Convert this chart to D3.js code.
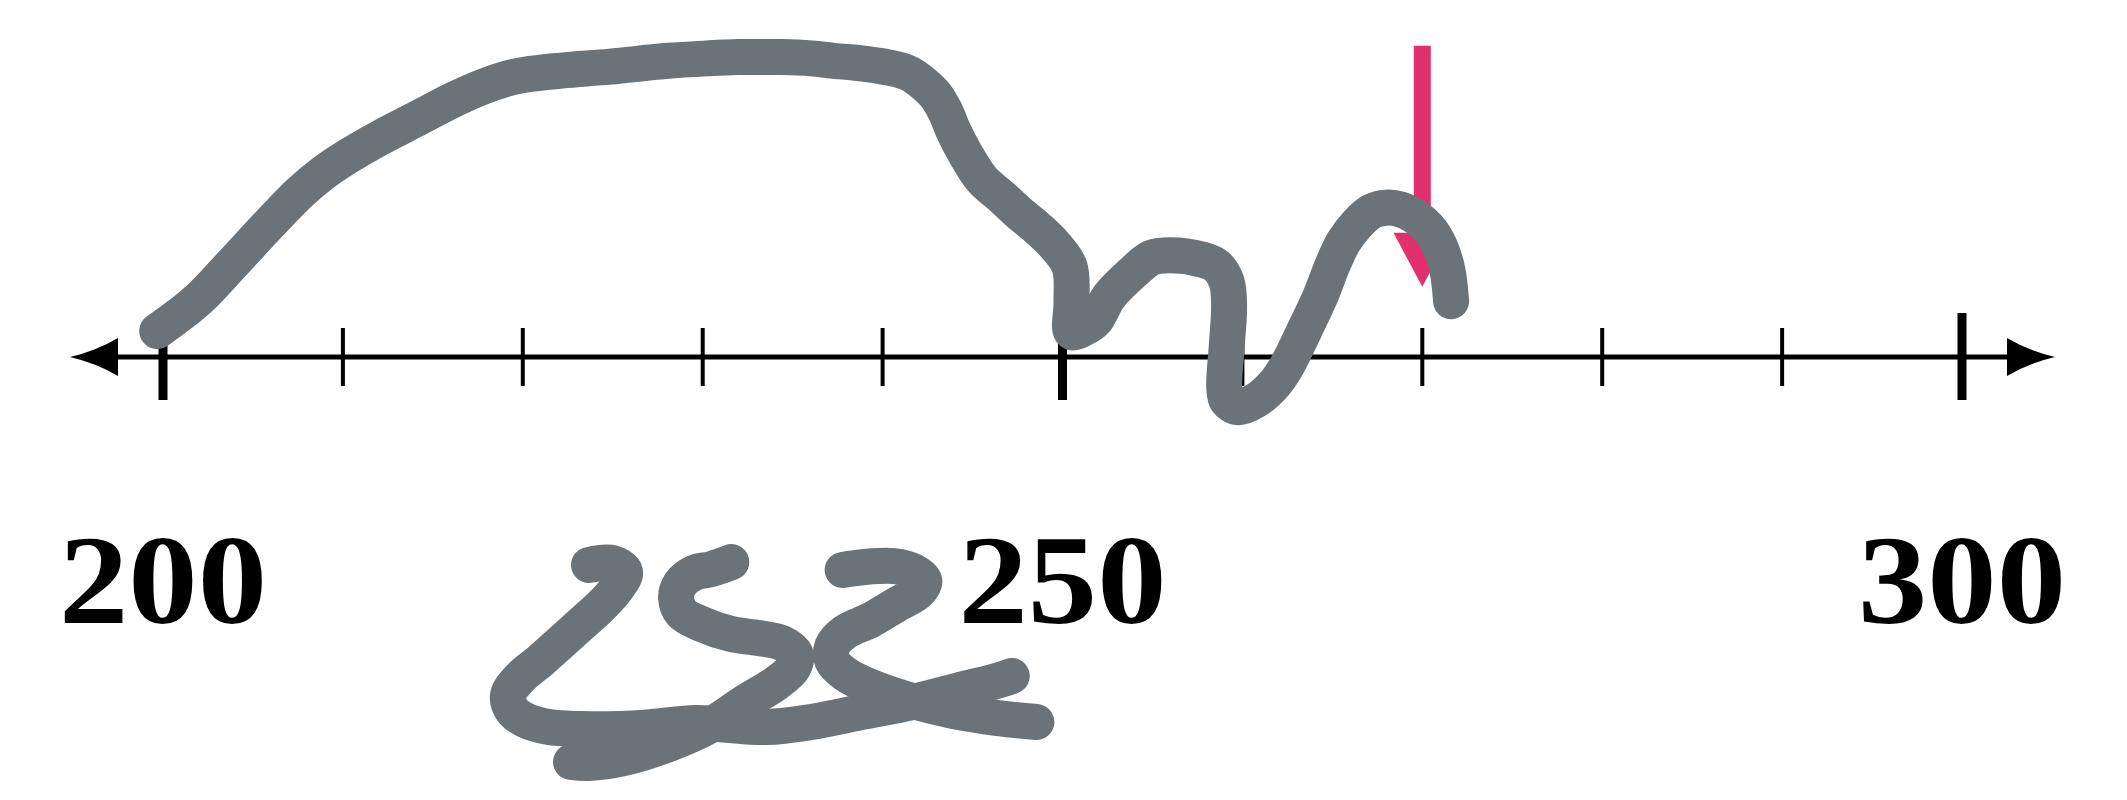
<!DOCTYPE html>
<html>
<head>
<meta charset="utf-8">
<script src="https://cdnjs.cloudflare.com/ajax/libs/d3/7.8.5/d3.min.js"></script>
<style>
  body { margin: 0; background: #fff; }
  svg { display: block; }
</style>
</head>
<body>
<div id="chartContent"></div>
<script>
// number line
var lineMin = 200
var lineMax = 300
var majorTicks = [200, 250, 300]
var tickLabels = ["200", "250", "300"]

// pink arrow pointing at 270 (value, top height, tip height)
var arrowValue = 270
var arrowTop = 17.3
var arrowTip = 3.9

// scribbles, [value, height above the line] in number line units
var topScribble = [
    [199.68, 1.44], [201.30, 2.64], [202.18, 3.40], [203.88, 5.21], [205.91, 7.40],
    [207.60, 9.13], [208.95, 10.26], [210.31, 11.17], [212.00, 12.15], [214.03, 13.20],
    [216.06, 14.26], [217.75, 15.01], [219.11, 15.47], [220.12, 15.69], [222.15, 15.92],
    [224.86, 16.14], [227.91, 16.45], [230.28, 16.60], [231.97, 16.67], [234.34, 16.67],
    [236.03, 16.60], [237.39, 16.45], [238.40, 16.37], [240.43, 16.07], [241.45, 15.77],
    [242.33, 15.16], [242.94, 14.56], [243.48, 13.66], [243.96, 12.52], [244.60, 11.30],
    [245.50, 9.90], [246.70, 8.83], [247.60, 8.00], [248.60, 7.17], [249.60, 6.19],
    [250.40, 5.00], [250.50, 3.00], [250.50, 1.40], [251.20, 1.60], [251.80, 2.00],
    [252.62, 3.40], [253.98, 4.76], [254.93, 5.51], [256.01, 5.66], [257.70, 5.43],
    [258.58, 5.05], [259.13, 4.15], [259.26, 2.87], [259.13, 0.60], [258.99, -1.66],
    [259.13, -2.41], [259.74, -2.79], [260.75, -2.41], [261.77, -1.51], [262.45, -0.53],
    [263.46, 1.51], [264.34, 3.39], [265.02, 5.13], [265.63, 6.41], [266.37, 7.39],
    [267.20, 8.10], [268.00, 8.30], [268.80, 8.20], [269.60, 7.80], [270.40, 7.10],
    [271.00, 6.10], [271.40, 4.80], [271.60, 3.10]
]
var twoStroke = [
    [223.68, -11.56], [224.96, -11.45], [225.68, -11.95], [225.24, -12.84], [224.29, -13.90],
    [223.18, -14.90], [222.07, -15.90], [220.96, -16.90], [219.84, -17.84], [219.18, -18.79],
    [219.40, -19.62], [220.12, -20.18], [221.46, -20.57], [223.18, -20.68], [225.40, -20.68],
    [227.18, -20.57], [229.65, -20.34], [233.53, -20.57], [236.03, -20.29], [238.86, -19.73],
    [241.70, -19.18], [244.53, -18.45], [246.33, -18.01], [247.18, -17.73]
]
var fiveStroke = [
    [231.59, -11.40], [230.50, -11.78], [229.51, -12.01], [228.75, -12.62], [228.52, -13.40],
    [228.84, -14.23], [229.93, -14.84], [231.59, -15.40], [233.10, -15.62], [234.40, -15.90],
    [235.16, -16.51], [235.02, -17.29], [234.10, -18.12], [232.30, -19.23], [230.36, -20.51],
    [227.96, -21.57], [225.63, -22.29], [223.68, -22.57], [222.68, -22.51]
]
var lastStroke = [
    [237.78, -11.84], [239.01, -11.67], [240.62, -11.62], [241.70, -11.90], [242.32, -12.45],
    [241.98, -13.06], [240.75, -13.78], [239.34, -14.62], [237.92, -15.29], [237.21, -16.07],
    [237.21, -16.90], [237.92, -17.62], [239.34, -18.34], [241.47, -19.07], [243.96, -19.68],
    [246.42, -20.07], [248.55, -20.29]
]

var width = 2127
var height = 800
var axisY = 357

var svg = d3.select("#chartContent")
    .append("svg")
    .attr("width", width)
    .attr("height", height)

var x = d3.scaleLinear()
    .domain([lineMin, lineMax])
    .range([163, 1962])

// same pixels per unit as x, measured up from the line
var y = d3.scaleLinear()
    .domain([0, 10])
    .range([axisY, axisY - (x(210) - x(200))])

//The line and its arrows
svg.append("line")
    .attr("x1", x(lineMin) - 48)
    .attr("x2", x(lineMax) + 48)
    .attr("y1", axisY)
    .attr("y2", axisY)
    .attr("stroke", "black")
    .attr("stroke-width", 5)

function arrowHead(tipX, dir) {
    var bx = tipX - dir * 48
    return `M${tipX},${axisY} Q${bx + dir * 22},${axisY - 6} ${bx},${axisY - 19} L${bx},${axisY + 19} Q${bx + dir * 22},${axisY + 6} ${tipX},${axisY} Z`
}
svg.append("path").attr("d", arrowHead(x(lineMin) - 93, -1)).attr("fill", "black")
svg.append("path").attr("d", arrowHead(x(lineMax) + 93, 1)).attr("fill", "black")

//Ticks
var ticks = x.ticks(10)
svg.selectAll(".tick")
    .data(ticks)
    .enter()
    .append("line")
    .classed("tick", true)
    .attr("x1", d => x(d))
    .attr("x2", d => x(d))
    .attr("y1", d => majorTicks.includes(d) ? axisY - 44 : axisY - 29)
    .attr("y2", d => majorTicks.includes(d) ? axisY + 43 : axisY + 29)
    .attr("stroke", "black")
    .attr("stroke-width", d => majorTicks.includes(d) ? 9 : 4)

svg.selectAll(".label")
    .data(majorTicks)
    .enter()
    .append("text")
    .classed("label", true)
    .attr("x", d => x(d))
    .attr("y", 623)
    .attr("text-anchor", "middle")
    .attr("font-family", "Liberation Serif, serif")
    .attr("font-weight", "bold")
    .attr("font-size", 126)
    .attr("textLength", 208)
    .attr("lengthAdjust", "spacingAndGlyphs")
    .text((d, i) => tickLabels[i])

//Pink arrow
svg.append("line")
    .attr("x1", x(arrowValue))
    .attr("x2", x(arrowValue))
    .attr("y1", y(arrowTop))
    .attr("y2", y(arrowTip + 2))
    .attr("stroke", "#e2306e")
    .attr("stroke-width", 17)

svg.append("path")
    .attr("d", `M${x(arrowValue - 1.6)},${y(arrowTip + 3)} L${x(arrowValue + 1.6)},${y(arrowTip + 3)} L${x(arrowValue)},${y(arrowTip)} Z`)
    .attr("fill", "#e2306e")

//Gray scribbles
var line = d3.line()
    .x(d => x(d[0]))
    .y(d => y(d[1]))
    .curve(d3.curveCatmullRom)

svg.selectAll(".scribble")
    .data([topScribble, twoStroke, fiveStroke, lastStroke])
    .enter()
    .append("path")
    .classed("scribble", true)
    .attr("d", line)
    .attr("fill", "none")
    .attr("stroke", "#6b7278")
    .attr("stroke-width", 36)
    .attr("stroke-linecap", "round")
    .attr("stroke-linejoin", "round")
</script>
</body>
</html>
